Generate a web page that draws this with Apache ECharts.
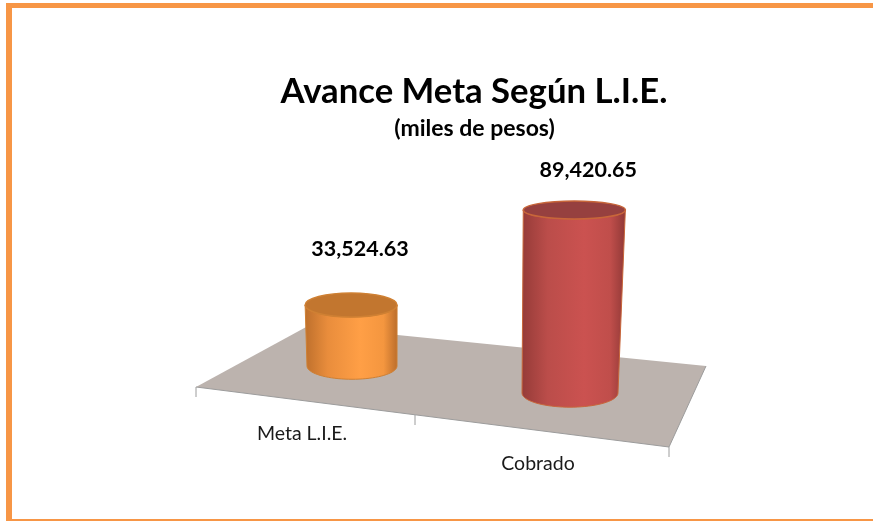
<!DOCTYPE html>
<html>
<head>
<meta charset="utf-8">
<title>Avance Meta Según L.I.E.</title>
<style>
  html, body { margin: 0; padding: 0; background: #fff; }
  #chart { width: 873px; height: 521px; }
</style>
<script src="https://cdn.jsdelivr.net/npm/echarts@6/dist/echarts.min.js"></script>
</head>
<body>
<div id="chart"></div>
<script>
const categories = ['Meta L.I.E.', 'Cobrado']
const values = [33524.63, 89420.65]

const FONT = 'Lato, "Open Sans", sans-serif'
const palette = [
  { side: ['#bd6f2c', '#e98d3c', '#ff9f46', '#f4963f', '#bb6d2b'], top: '#c2762f', rim: '#cf8033' },
  { side: ['#953b38', '#bb4d4a', '#cb5250', '#c04e4b', '#8f3836'], top: '#96403f', rim: '#c8663a' }
]
// hand placed in the original slide, so they do not follow the bars exactly
const valueLabelShift = [[9, -56], [14, -40]]
const catLabelShift = [[-50, 68], [-32, 71]]

// fake perspective of the floor: nearer columns sit lower and get larger
const FLOOR_TILT = 0.124
const VANISH_X = 390

function ellipsePoints(cx, cy, rx, ry, from, to, steps) {
  const pts = []
  for (let i = 0; i <= steps; i++) {
    const a = from + (to - from) * i / steps
    pts.push([cx + rx * Math.cos(a), cy + ry * Math.sin(a)])
  }
  return pts
}

function renderCylinder(params, api) {
  const i = api.value(0)
  const zero = api.coord([i, 0])
  const head = api.coord([i, api.value(1)])
  const baseX = zero[0]
  const baseY = zero[1] + FLOOR_TILT * (baseX - 352)
  const depth = 0.91 + (baseY - 366) * 0.0042
  const h = (zero[1] - head[1]) * depth

  const baseRx = 45 + (baseY - 366) * 0.11
  const baseRy = baseRx * 0.295
  const topX = baseX + (baseX - VANISH_X) * 0.024
  const topY = baseY - h
  const topRx = baseRx * (1 + h * 0.00035)
  const topRy = 13.5 - h * 0.0246

  const colors = palette[i]
  const stops = colors.side.map((color, k) => ({ offset: [0, 0.25, 0.6, 0.85, 1][k], color }))
  const body = [[topX + topRx, topY]]
    .concat(ellipsePoints(baseX, baseY, baseRx, baseRy, 0, Math.PI, 40))
    .concat([[topX - topRx, topY]])
    .concat(ellipsePoints(topX, topY, topRx, topRy, Math.PI, 0, 40))

  const vs = valueLabelShift[i]
  const cs = catLabelShift[i]
  return {
    type: 'group',
    children: [
      {
        type: 'polygon',
        shape: { points: body },
        style: {
          fill: new echarts.graphic.LinearGradient(0, 0, 1, 0, stops),
          stroke: colors.rim,
          lineWidth: 1
        }
      },
      {
        type: 'ellipse',
        shape: { cx: topX, cy: topY, rx: topRx, ry: topRy },
        style: { fill: colors.top, stroke: colors.rim, lineWidth: 1.5 }
      },
      {
        type: 'text',
        style: {
          x: topX + vs[0],
          y: topY + vs[1],
          text: api.value(1).toLocaleString('en-US', { minimumFractionDigits: 2, maximumFractionDigits: 2 }),
          fill: '#000',
          font: 'bold 21.5px ' + FONT,
          align: 'center',
          verticalAlign: 'middle'
        }
      },
      {
        type: 'text',
        style: {
          x: baseX + cs[0],
          y: baseY + cs[1],
          text: categories[i],
          fill: '#1a1a1a',
          font: '19.5px ' + FONT,
          align: 'center',
          verticalAlign: 'middle'
        }
      }
    ]
  }
}

function frameRect(x, y, width, height) {
  return { type: 'rect', z: 0, shape: { x, y, width, height }, style: { fill: '#f79646' } }
}

function tick(x1, y1, x2, y2) {
  return { type: 'line', z: 1, shape: { x1, y1, x2, y2 }, style: { stroke: '#9c9c9c', lineWidth: 1 } }
}

const chart = echarts.init(document.getElementById('chart'), null, { renderer: 'canvas' })
chart.setOption({
  animation: false,
  backgroundColor: '#fff',
  title: [
    {
      text: 'Avance Meta Según L.I.E.',
      left: 469,
      top: 69,
      textAlign: 'center',
      textStyle: { fontFamily: FONT, fontSize: 34.7, fontWeight: 'bold', color: '#000' }
    },
    {
      text: '(miles de pesos)',
      left: 469.5,
      top: 112,
      textAlign: 'center',
      textStyle: { fontFamily: FONT, fontSize: 23, fontWeight: 'bold', color: '#000' }
    }
  ],
  graphic: {
    elements: [
      frameRect(6, 3, 867, 5),
      frameRect(6, 3, 6, 518),
      frameRect(6, 519, 867, 2),
      {
        type: 'polygon',
        z: 0,
        shape: { points: [[196, 387], [308, 326], [706, 366], [669, 447]] },
        style: { fill: '#bcb3ae' }
      },
      {
        type: 'polyline',
        z: 1,
        shape: { points: [[196, 387], [669, 447], [706, 366]] },
        style: { stroke: '#9c9c9c', lineWidth: 1, fill: 'none' }
      },
      tick(196, 387, 196, 397),
      tick(415, 415, 415, 425),
      tick(669, 447, 669, 457)
    ]
  },
  grid: { left: 243, width: 436, top: 166, height: 200 },
  xAxis: { type: 'category', data: categories, show: false },
  yAxis: { type: 'value', min: 0, max: 100000, show: false },
  series: [
    {
      type: 'custom',
      z: 5,
      clip: false,
      encode: { x: 0, y: 1 },
      data: values.map((v, i) => [i, v]),
      renderItem: renderCylinder
    }
  ]
})
</script>
</body>
</html>
